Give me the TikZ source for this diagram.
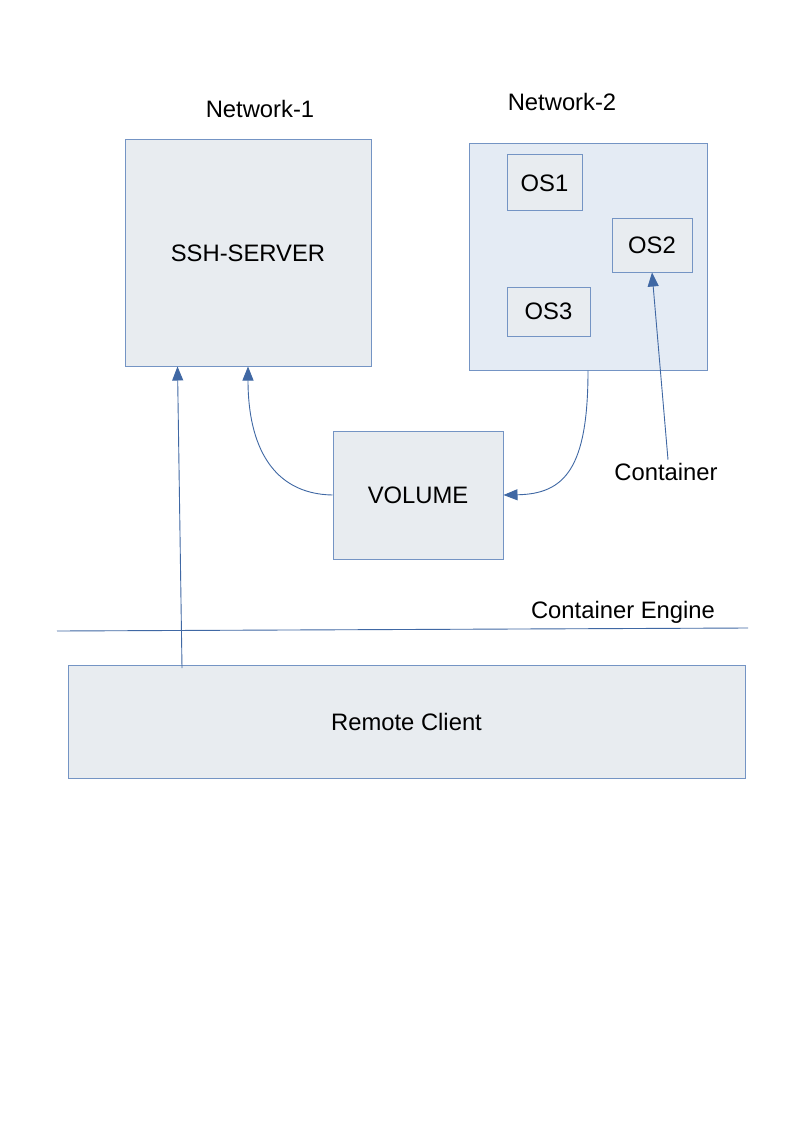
\documentclass[tikz,border=0pt]{standalone}
\usepackage{fontspec}
\setmainfont{Liberation Sans}
\usetikzlibrary{arrows.meta,calc}
\definecolor{boxfill}{HTML}{E8ECF0}
\definecolor{netfill}{HTML}{E4EBF4}
\definecolor{boxline}{HTML}{7494C4}
\definecolor{conn}{HTML}{4068A4}
\begin{document}
\begin{tikzpicture}[x=1pt,y=-1pt,
  txt/.style={font=\fontsize{23.8}{28}\selectfont, text=black},
  box/.style={draw=boxline, fill=boxfill, line width=1pt, inner sep=0pt, txt},
  netbox/.style={box, fill=netfill},
  arr/.style={draw=conn, line width=0.9pt, -{Triangle[length=14pt,width=11pt]}},
  plain/.style={draw=conn, line width=0.9pt}]
\useasboundingbox[fill=white] (0,0) rectangle (794,1123);
% boxes
\node[box, minimum width=246pt, minimum height=226pt] (ssh) at (248,253) {SSH-SERVER};
\node[netbox, minimum width=238pt, minimum height=226pt] (net2) at (588,257) {};
\node[box, minimum width=75pt, minimum height=56pt] (os1) at (544.5,183) {OS1};
\node[box, minimum width=80pt, minimum height=53pt] (os2) at (652,245.5) {OS2};
\node[box, minimum width=83pt, minimum height=49pt] (os3) at (548.5,311.5) {OS3};
\node[box, minimum width=170pt, minimum height=128pt] (vol) at (418,495) {VOLUME};
\node[box, minimum width=677pt, minimum height=113pt] (rc) at (406.5,721.5) {Remote Client};
% labels
\node[txt] (n1) at (260,109) {Network-1};
\node[txt] (n2) at (562,102) {Network-2};
\node[txt] (cont) at (666,472) {Container};
\node[txt] (eng) at (623,612) {Container Engine};
% engine line
\coordinate (e1) at (57,631);
\coordinate (e2) at (748,628);
\draw[plain] (e1) -- (e2);
% connectors
\coordinate (rcstart) at (182,668);
\draw[arr] (rcstart) -- ($(ssh.south west)+(53,0)$);
\draw[arr] (vol.west) .. controls (272,494) and (248,445) .. (ssh.south);
\draw[arr] (net2.south) .. controls (588,468) and (565,494) .. (vol.east);
\draw[arr] ($(cont.north)+(2,0)$) -- (os2.south);
\end{tikzpicture}
\end{document}
